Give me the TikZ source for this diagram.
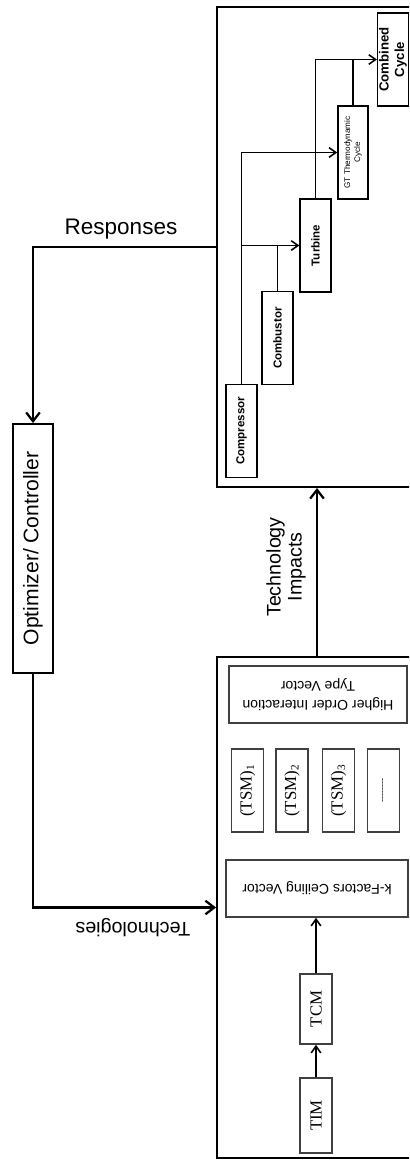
\documentclass[tikz,border=0pt]{standalone}
\usepackage{fontspec}
\setmainfont{Liberation Sans}
\newfontfamily\tmsfont{Liberation Serif}
\usetikzlibrary{arrows.meta}

\begin{document}
\begin{tikzpicture}[x=0.025cm, y=-0.025cm,
    >={Straight Barb[length=2.2mm,width=3.4mm]},
    tip/.style={-{Straight Barb[length=1.7mm,width=2.4mm]}},
    frame/.style={draw, line width=1.3pt, minimum width=5cm},
    flow/.style={draw, line width=1.6pt, ->},
    link/.style={draw, line width=1.1pt},
    txt/.style={inner sep=0pt, font=\fontsize{14}{15}\selectfont},
    part/.style={draw, line width=1.1pt, rotate=90, inner sep=1pt, align=center,
        minimum width=2.33cm, minimum height=0.77cm, font=\bfseries\fontsize{8.2}{10}\selectfont},
    tbox/.style={draw=black!75, line width=1.1pt, rotate=90, inner sep=1pt,
        minimum height=0.8cm, font=\tmsfont\fontsize{12}{14}\selectfont},
    vbox/.style={draw=black!75, line width=1.1pt, rotate=180, align=center,
        minimum height=1.425cm, font=\fontsize{10}{13}\selectfont}]

    \useasboundingbox (0,0) rectangle (409,1160);
    \clip (0,0) rectangle (409,1160);

    % frames
    \node[frame, minimum height=12cm] (sys) at (317,247) {};
    \node[frame, minimum height=12.525cm] (tech) at (317,907.5) {};

    % optimizer loop
    \node[draw, line width=1.3pt, rotate=90, minimum width=6.225cm, minimum height=1cm,
        font=\fontsize{15}{18}\selectfont] (opt) at (33,548.5) {Optimizer/ Controller};
    \path[flow] (sys.west) -| (opt.east);
    \path[flow] (opt.west) |- (tech.west);
    \path[flow] (tech.north) -- (sys.south);
    \node[txt, font=\fontsize{16}{18}\selectfont] (resp) at (121,229) {Responses};
    \node[txt, rotate=180] (techs) at (133,928) {Technologies};
    \node[txt, rotate=90, align=center] (imp) at (286,567) {Technology\\Impacts};

    % engine components
    \node[part] (cmp) at (241.5,431) {Compressor};
    \node[part] (cbs) at (277.5,338) {Combustor};
    \node[part] (trb) at (315.5,245.5) {Turbine};
    \node[part, minimum height=0.75cm, font=\fontsize{5.8}{7}\selectfont] (gtc) at (353,152.5) {GT Thermodynamic\\Cycle};
    \node[part, minimum height=0.75cm, font=\bfseries\fontsize{9.4}{11}\selectfont] (cc) at (393,59.5) {Combined\\Cycle};
    \path[link, tip] (cmp.east) |- (gtc.north);
    \path[link, tip] (cmp.east) |- (trb.north);
    \path[link] (cbs.east) -- (cbs.east |- trb.north);
    \path[link, tip] (trb.east) |- (cc.north);
    \path[link] (gtc.east) -- (gtc.east |- cc.north);

    % technology side
    \node[vbox, minimum width=4.45cm] (hoi) at (318,694.5) {Higher Order Interaction\\Type Vector};
    \foreach \n/\xc in {1/247.5, 2/292, 3/338.5}
    {
        \node[tbox, minimum width=2.075cm] (tsm\n) at (\xc,790.5) {(TSM)\textsubscript{\n}};
    }
    \node[tbox, minimum width=2.075cm, font=\tmsfont\fontsize{6.5}{8}\selectfont] (tsm4) at (383.5,790.5) {-\kern0pt-\kern0pt-\kern0pt-\kern0pt-\kern0pt-\kern0pt-\kern0pt-};
    \node[vbox, minimum width=4.55cm] (kf) at (317,888.5) {k-Factors Ceiling Vector};
    \node[tbox, minimum width=1.75cm] (tcm) at (316,1009) {TCM};
    \node[tbox, minimum width=1.875cm] (tim) at (316,1115.5) {TIM};
    \path[link, tip] (tim.east) -- (tcm.west);
    \path[link, tip] (tcm.east) -- (tcm.east |- kf.north);
\end{tikzpicture}
\end{document}
